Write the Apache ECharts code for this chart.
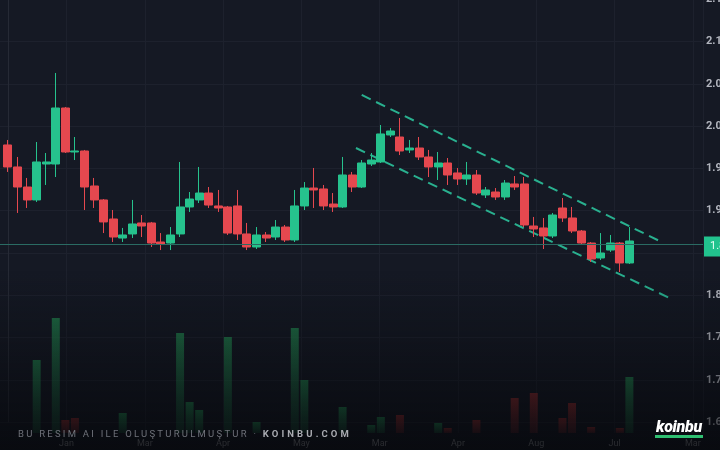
<!DOCTYPE html>
<html><head><meta charset="utf-8">
<script src="https://cdn.jsdelivr.net/npm/echarts@6/dist/echarts.min.js"></script>
<style>
html,body{margin:0;padding:0;background:#151924;width:720px;height:450px;overflow:hidden}
#wrap{position:relative;width:720px;height:450px}
#chart{position:absolute;left:0;top:0;width:720px;height:450px}
#shade{position:absolute;left:0;top:0;width:720px;height:450px;pointer-events:none;
 background:linear-gradient(to bottom, rgba(4,5,8,0) 0px, rgba(4,5,8,0) 270px, rgba(4,5,8,0.35) 360px, rgba(4,5,8,0.72) 450px)}
#wm{position:absolute;left:18px;top:429px;font-family:Roboto,sans-serif;font-size:9.5px;line-height:10px;letter-spacing:2.25px;color:#6f727a;white-space:nowrap}
#wm b{color:#a9abb1;font-weight:700;letter-spacing:3.1px}
#logo{position:absolute;left:655px;top:419px;font-family:Roboto,sans-serif;font-size:16px;line-height:16px;font-weight:900;font-style:italic;color:#ffffff;letter-spacing:-0.3px;border-bottom:3px solid #2fbf71;padding:0 1px 0 1px}
</style></head>
<body><div id="wrap"><div id="chart"></div><div id="shade"></div>
<div id="wm">BU RESIM AI ILE OLUŞTURULMUŞTUR · <b>KOINBU.COM</b></div>
<div id="logo">koinbu</div></div>
<script>
// ---- data ----
const openP  = [1.9777,1.9517,1.9280,1.9127,1.9552,1.9552,2.0214,1.9694,1.9706,1.9292,
                1.9127,1.8902,1.8677,1.8725,1.8855,1.8855,1.8630,1.8618,1.8725,1.9044,
                1.9127,1.9209,1.9056,1.9044,1.9056,1.8725,1.8571,1.8713,1.8689,1.8807,
                1.8654,1.9056,1.9268,1.9257,1.9079,1.9044,1.9422,1.9280,1.9552,1.9576,
                1.9895,1.9871,1.9718,1.9741,1.9635,1.9517,1.9564,1.9446,1.9375,1.9422,
                1.9186,1.9221,1.9162,1.9316,1.9316,1.8819,1.8796,1.8701,1.9032,1.8914,
                1.8760,1.8618,1.8441,1.8535,1.8618,1.8382];
const closeP = [1.9517,1.9280,1.9127,1.9576,1.9576,2.0214,1.9694,1.9706,1.9280,1.9127,
                1.8867,1.8689,1.8713,1.8843,1.8819,1.8618,1.8607,1.8713,1.9044,1.9138,
                1.9209,1.9067,1.9032,1.8736,1.8725,1.8571,1.8713,1.8677,1.8807,1.8654,
                1.9056,1.9268,1.9245,1.9056,1.9044,1.9422,1.9280,1.9564,1.9599,1.9907,
                1.9942,1.9706,1.9741,1.9635,1.9517,1.9564,1.9422,1.9375,1.9422,1.9209,
                1.9245,1.9162,1.9327,1.9280,1.8831,1.8784,1.8701,1.8949,1.8914,1.8760,
                1.8618,1.8429,1.8500,1.8618,1.8382,1.8642];
const lowP   = [1.9458,1.8973,1.9032,1.9103,1.9304,1.9398,1.9682,1.9599,1.9008,1.9032,
                1.8736,1.8630,1.8630,1.8677,1.8689,1.8571,1.8535,1.8535,1.8689,1.8985,
                1.9091,1.9032,1.8985,1.8713,1.8654,1.8535,1.8547,1.8630,1.8654,1.8630,
                1.8630,1.9008,1.9032,1.9008,1.8985,1.9032,1.9221,1.9268,1.9528,1.9564,
                1.9871,1.9658,1.9682,1.9599,1.9398,1.9363,1.9304,1.9304,1.9304,1.9186,
                1.9150,1.9127,1.9127,1.9245,1.8807,1.8689,1.8547,1.8677,1.8867,1.8736,
                1.8607,1.8394,1.8417,1.8512,1.8275,1.8370];
const highP  = [1.9836,1.9635,1.9387,1.9812,1.9682,2.0628,2.0226,1.9871,1.9718,1.9387,
                1.9138,1.9008,1.8796,1.9127,1.8949,1.8867,1.8736,1.8807,1.9576,1.9221,
                1.9517,1.9280,1.9245,1.9056,1.9245,1.8855,1.8807,1.8748,1.8890,1.8831,
                1.9245,1.9339,1.9505,1.9304,1.9209,1.9635,1.9458,1.9599,1.9682,2.0013,
                1.9978,2.0096,1.9836,1.9871,1.9718,1.9694,1.9623,1.9505,1.9576,1.9481,
                1.9280,1.9268,1.9363,1.9410,1.9398,1.8926,1.8914,1.8973,1.9150,1.9044,
                1.8772,1.8630,1.8736,1.8713,1.8630,1.8807];
const volumeUp   = [0,0,0,730,0,1150,0,0,0,0, 0,0,200,0,0,0,0,0,1000,310,
                    230,0,0,960,0,0,110,0,0,0, 1050,530,0,0,0,260,0,0,80,160,
                    0,0,0,0,0,100,0,0,0,0, 0,0,0,0,0,0,0,0,0,0, 0,0,0,0,0,560];
const volumeDown = [0,0,0,0,0,0,130,150,0,0, 0,0,0,0,0,0,0,0,0,0,
                    0,0,0,0,0,0,0,0,0,0, 0,0,0,0,0,0,0,0,0,0,
                    0,180,0,0,0,0,50,0,0,130, 0,0,0,350,0,400,0,0,150,300, 0,60,0,0,50,0];
const monthLabels = ['Jan','Mar','Apr','May','Mar','Apr','Aug','Jul','Mar'];
const trendUpper = [[37, 2.0368], [68.3, 1.8634]];
const trendLower = [[36.4, 1.9741], [69.2, 1.7968]];

// ---- chart ----
const X_MIN = -2.07, X_MAX = 72.7, X_INT = 8.19;
const N = openP.length;
const lastClose = closeP[N - 1];
const candleData = openP.map((o, i) => [i, o, closeP[i], lowP[i], highP[i]]);
const upVolData = volumeUp.map((v, i) => [i, v]);
const dnVolData = volumeDown.map((v, i) => [i, v]);

const gridCol = '#1d212d';
const chart = echarts.init(document.getElementById('chart'), null, {renderer: 'canvas'});
chart.setOption({
  animation: false,
  backgroundColor: 'transparent',
  grid: [
    {left: -11.8, right: 17, top: -0.8, bottom: 27.8, outerBoundsMode: 'none', containLabel: false},
    {left: -11.8, right: 17, top: 300, bottom: 17, outerBoundsMode: 'none', containLabel: false}
  ],
  xAxis: [
    {type: 'value', gridIndex: 0, min: X_MIN, max: X_MAX, interval: X_INT,
     axisLine: {show: false}, axisTick: {show: false},
     splitLine: {show: true, lineStyle: {color: gridCol, width: 1}},
     axisLabel: {show: true, margin: 17, color: '#7d8088', fontSize: 9, fontFamily: 'Roboto',
       showMinLabel: false, showMaxLabel: false, hideOverlap: false,
       formatter: v => { const k = Math.round((v - X_MIN) / X_INT); return monthLabels[k - 1] || ''; }}},
    {type: 'value', gridIndex: 1, min: X_MIN, max: X_MAX, interval: X_INT,
     axisLine: {show: false}, axisTick: {show: false}, axisLabel: {show: false},
     splitLine: {show: true, lineStyle: {color: gridCol, width: 1}}}
  ],
  yAxis: [
    {type: 'value', gridIndex: 0, position: 'right', min: 1.65, max: 2.15, interval: 0.05,
     axisLine: {show: true, lineStyle: {color: '#262a35'}}, axisTick: {show: false},
     splitLine: {show: true, lineStyle: {color: gridCol, width: 1}},
     axisLabel: {margin: 3, color: '#b2b5be', fontSize: 11, fontWeight: 'bold', fontFamily: 'Roboto',
       hideOverlap: false,
       formatter: v => Math.abs(v - lastClose) < 0.02 ? '' : v.toFixed(2)}},
    {type: 'value', gridIndex: 1, min: 0, max: 1330, show: false}
  ],
  series: [
    {type: 'line', xAxisIndex: 0, yAxisIndex: 0, data: trendUpper, symbol: 'none', silent: true, z: 1,
     lineStyle: {color: '#29b08f', width: 2, type: [10, 6]}},
    {type: 'line', xAxisIndex: 0, yAxisIndex: 0, data: trendLower, symbol: 'none', silent: true, z: 1,
     lineStyle: {color: '#29b08f', width: 2, type: [10, 6]}},
    {type: 'bar', xAxisIndex: 1, yAxisIndex: 1, data: upVolData, barWidth: 8, stack: 'vol', silent: true,
     itemStyle: {color: new echarts.graphic.LinearGradient(0, 0, 0, 1, [
       {offset: 0, color: 'rgba(34,128,78,0.8)'}, {offset: 1, color: 'rgba(34,128,78,0.3)'}])}},
    {type: 'bar', xAxisIndex: 1, yAxisIndex: 1, data: dnVolData, barWidth: 8, stack: 'vol', silent: true,
     itemStyle: {color: new echarts.graphic.LinearGradient(0, 0, 0, 1, [
       {offset: 0, color: 'rgba(130,42,46,0.85)'}, {offset: 1, color: 'rgba(130,42,46,0.35)'}])}},
    {type: 'candlestick', xAxisIndex: 0, yAxisIndex: 0, data: candleData, barWidth: 8.5, z: 3,
     itemStyle: {color: '#26c28d', color0: '#e5484f', borderColor: '#26c28d', borderColor0: '#e5484f', borderWidth: 1},
     markLine: {silent: true, symbol: ['none', 'none'], animation: false,
       lineStyle: {color: '#2a6b63', width: 1, type: 'solid', opacity: 1},
       data: [{yAxis: lastClose, lineStyle: {color: '#2a6b63', width: 1, type: 'solid'}}],
       label: {show: true, position: 'end', distance: 1, offset: [0, 2],
         formatter: () => lastClose.toFixed(4), color: '#e8fff5', backgroundColor: '#22c38e',
         padding: [5, 6, 4, 6], fontSize: 11, fontFamily: 'Roboto'},
       emphasis: {disabled: true}}}
  ]
});
</script></body></html>
